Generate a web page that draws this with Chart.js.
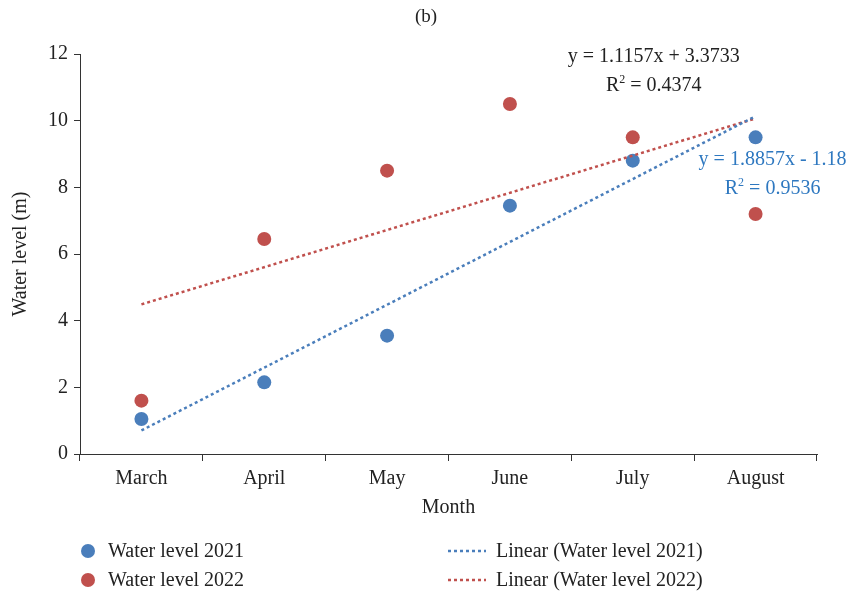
<!DOCTYPE html>
<html>
<head>
<meta charset="utf-8">
<script src="https://cdn.jsdelivr.net/npm/chart.js@4"></script>
<style>
  html, body { margin: 0; padding: 0; background: #fff; }
  #wrap { width: 849px; height: 596px; }
</style>
</head>
<body>
<div id="wrap"><canvas id="chartWater"></canvas></div>
<script>
const months = ['March', 'April', 'May', 'June', 'July', 'August'];
const level2021 = [1.05, 2.15, 3.55, 7.45, 8.8, 9.5];
const level2022 = [1.6, 6.45, 8.5, 10.5, 9.5, 7.2];
const yTicks = [0, 2, 4, 6, 8, 10, 12];

// trend line coefficients and their labels
const fit2021 = { slope: 1.8857, intercept: -1.18, eq: 'y = 1.8857x - 1.18', r2: '0.9536' };
const fit2022 = { slope: 1.1157, intercept: 3.3733, eq: 'y = 1.1157x + 3.3733', r2: '0.4374' };

const FONT = '"Liberation Serif", "Times New Roman", serif';
const BLUE = '#4a7ebb';
const RED = '#c0504d';

// only the two ends of the trend are needed, the rest is spanned
function trendData(fit) {
    return months.map((m, i) => (i === 0 || i === months.length - 1) ? fit.slope * (i + 1) + fit.intercept : null);
}

const equationPlugin = {
    id: 'equations',
    afterDatasetsDraw(chart) {
        const ctx = chart.ctx;
        const x = chart.scales.x;
        ctx.save();
        ctx.textAlign = 'center';
        ctx.textBaseline = 'middle';

        function writeEq(fit, cx, cy, color) {
            ctx.fillStyle = color;
            ctx.font = '20px ' + FONT;
            ctx.fillText(fit.eq, cx, cy);
            // R² with a small raised 2
            const r = 'R', rest = ' = ' + fit.r2;
            const wR = ctx.measureText(r).width;
            const wRest = ctx.measureText(rest).width;
            ctx.font = '12px ' + FONT;
            const w2 = ctx.measureText('2').width;
            const start = cx - (wR + w2 + wRest) / 2;
            ctx.textAlign = 'left';
            ctx.font = '20px ' + FONT;
            ctx.fillText(r, start, cy + 29);
            ctx.font = '12px ' + FONT;
            ctx.fillText('2', start + wR, cy + 23);
            ctx.font = '20px ' + FONT;
            ctx.fillText(rest, start + wR + w2, cy + 29);
            ctx.textAlign = 'center';
        }

        writeEq(fit2022, x.getPixelForValue(4) + 21, 57, '#222');
        writeEq(fit2021, x.getPixelForValue(5) + 17, 160, '#2e78c0');
        ctx.restore();
    }
};

const titleLegendPlugin = {
    id: 'titleLegend',
    afterDraw(chart) {
        const ctx = chart.ctx;
        ctx.save();
        ctx.fillStyle = '#222';
        ctx.font = '19px ' + FONT;
        ctx.textAlign = 'center';
        ctx.textBaseline = 'middle';
        ctx.fillText('(b)', 426, 17);

        ctx.font = '20px ' + FONT;
        ctx.textAlign = 'left';
        const rows = [
            { color: BLUE, label: chart.data.datasets[0].label, trend: chart.data.datasets[1].label, y: 551 },
            { color: RED, label: chart.data.datasets[2].label, trend: chart.data.datasets[3].label, y: 580 }
        ];
        rows.forEach(row => {
            ctx.fillStyle = row.color;
            ctx.beginPath();
            ctx.arc(88, row.y, 7, 0, Math.PI * 2);
            ctx.fill();
            ctx.fillStyle = '#222';
            ctx.fillText(row.label, 108, row.y + 1);

            ctx.strokeStyle = row.color;
            ctx.lineWidth = 2.5;
            ctx.setLineDash([3, 3]);
            ctx.beginPath();
            ctx.moveTo(448, row.y);
            ctx.lineTo(486, row.y);
            ctx.stroke();
            ctx.setLineDash([]);
            ctx.fillText(row.trend, 496, row.y + 1);
        });
        ctx.restore();
    }
};

const ctxWater = document.getElementById('chartWater').getContext('2d');
new Chart(ctxWater, {
    type: 'line',
    data: {
        labels: months,
        datasets: [{
            label: 'Water level 2021',
            data: level2021,
            showLine: false,
            pointRadius: 7,
            pointHoverRadius: 7,
            pointBackgroundColor: BLUE,
            pointBorderWidth: 0,
            order: 2
        }, {
            label: 'Linear (Water level 2021)',
            data: trendData(fit2021),
            spanGaps: true,
            borderColor: BLUE,
            borderWidth: 2.5,
            borderDash: [3, 3],
            pointRadius: 0,
            order: 1
        }, {
            label: 'Water level 2022',
            data: level2022,
            showLine: false,
            pointRadius: 7,
            pointHoverRadius: 7,
            pointBackgroundColor: RED,
            pointBorderWidth: 0,
            order: 2
        }, {
            label: 'Linear (Water level 2022)',
            data: trendData(fit2022),
            spanGaps: true,
            borderColor: RED,
            borderWidth: 2.5,
            borderDash: [3, 3],
            pointRadius: 0,
            order: 1
        }]
    },
    options: {
        responsive: true,
        maintainAspectRatio: false,
        animation: false,
        layout: { padding: { top: 54, right: 32, bottom: 76, left: 0 } },
        plugins: {
            legend: { display: false },
            title: { display: false },
            tooltip: { enabled: false }
        },
        scales: {
            x: {
                type: 'category',
                offset: true,
                afterFit(scale) { scale.height = 66; },
                grid: {
                    offset: true,
                    drawOnChartArea: false,
                    drawTicks: true,
                    tickLength: 7,
                    color: '#333'
                },
                border: { color: '#333', width: 1 },
                ticks: {
                    color: '#222',
                    font: { family: FONT, size: 20 },
                    padding: 6,
                    maxRotation: 0
                },
                title: {
                    display: true,
                    text: 'Month',
                    color: '#222',
                    font: { family: FONT, size: 20 },
                    padding: { top: 0, bottom: 0 }
                }
            },
            y: {
                min: 0,
                max: 12,
                afterFit(scale) { scale.width = 80; },
                afterBuildTicks(scale) { scale.ticks = yTicks.map(v => ({ value: v })); },
                grid: {
                    drawOnChartArea: false,
                    drawTicks: true,
                    tickLength: 6,
                    color: '#333'
                },
                border: { color: '#333', width: 1 },
                ticks: {
                    color: '#222',
                    font: { family: FONT, size: 20 },
                    padding: 6
                },
                title: {
                    display: true,
                    text: 'Water level (m)',
                    color: '#222',
                    font: { family: FONT, size: 20 },
                    padding: { top: 9, bottom: 4 }
                }
            }
        }
    },
    plugins: [equationPlugin, titleLegendPlugin]
});
</script>
</body>
</html>
